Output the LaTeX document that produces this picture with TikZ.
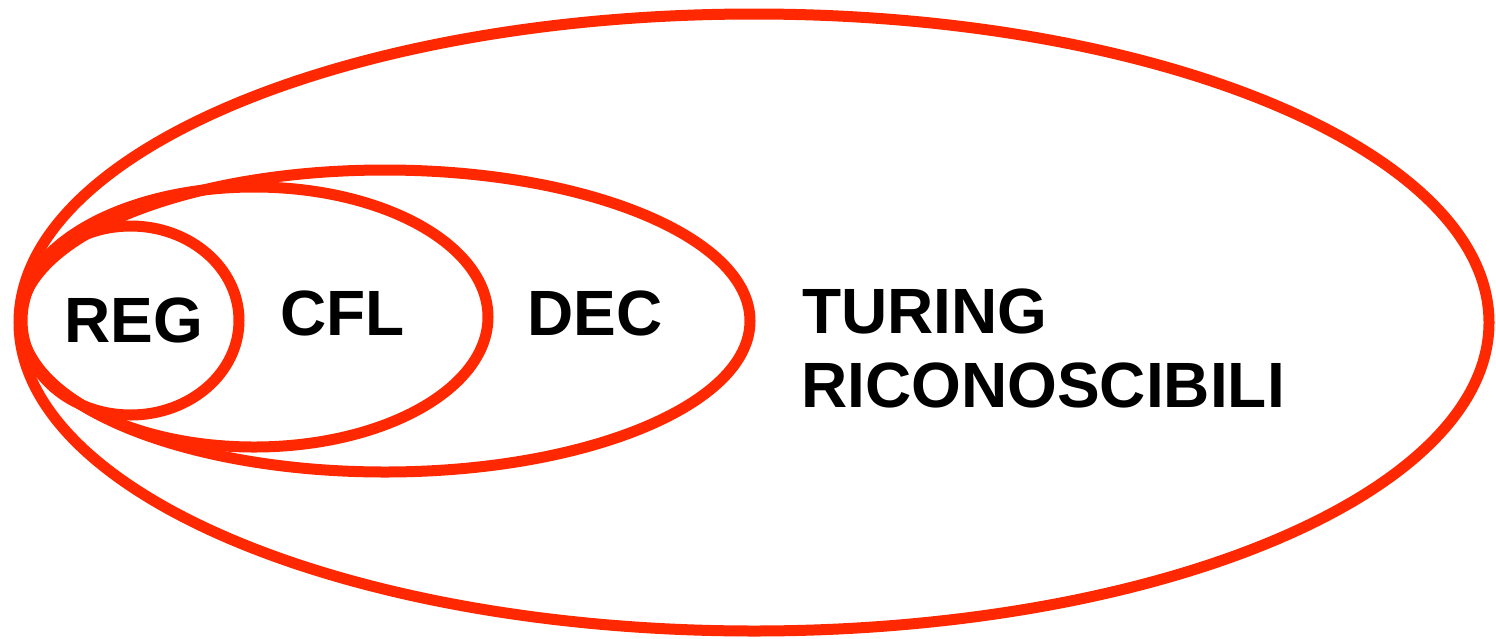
\documentclass[tikz,border=0pt]{standalone}
\usepackage{fontspec}
\setmainfont{Liberation Sans}
\definecolor{setred}{RGB}{255,40,0}
\begin{document}
\begin{tikzpicture}[x=1pt,y=-1pt,
  setline/.style={draw=setred,line width=11pt},
  lbl/.style={anchor=base west,inner sep=0pt,font=\fontsize{64}{74}\selectfont\bfseries}]
\useasboundingbox[fill=white] (0,0) rectangle (1496,638);
\draw[setline] (754,322.5) ellipse [x radius=735, y radius=308.5];
\draw[setline] (385,321) ellipse [x radius=365, y radius=151];
\draw[setline] (254,317) ellipse [x radius=234, y radius=130];
\draw[setline] (130.5,320.5) ellipse [x radius=108.5, y radius=94.5];
\node[lbl] (reg) at (64,342) {REG};
\node[lbl] (cfl) at (280,335) {CFL};
\node[lbl] (dec) at (527,335) {DEC};
\node[lbl] (turing) at (802,333) {TURING};
\node[lbl] (ricon) at (801,407) {RICONOSCIBILI};
\end{tikzpicture}
\end{document}
